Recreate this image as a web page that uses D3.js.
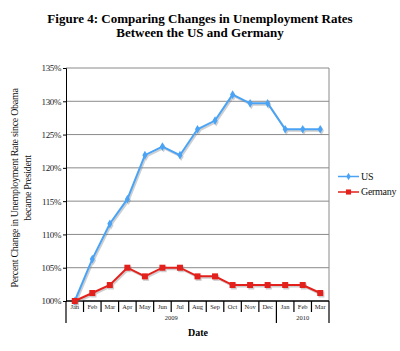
<!DOCTYPE html>
<html>
<head>
<meta charset="utf-8">
<script src="https://cdn.jsdelivr.net/npm/d3@7"></script>
<style>
  body { margin: 0; background: #fff; }
  text { font-family: "Liberation Serif", "Times New Roman", serif; }
</style>
</head>
<body>
<div class="chart"></div>
<script>
// data
var months = ["Jan", "Feb", "Mar", "Apr", "May", "Jun", "Jul", "Aug", "Sep", "Oct", "Nov", "Dec", "Jan", "Feb", "Mar"];
var years = [{ year: "2009", from: 0, to: 12 }, { year: "2010", from: 12, to: 15 }];
var usValues = [100, 106.3, 111.6, 115.3, 121.9, 123.2, 121.9, 125.8, 127.1, 131.0, 129.7, 129.7, 125.8, 125.8, 125.8];
var germanyValues = [100, 101.2, 102.4, 105.0, 103.7, 105.0, 105.0, 103.7, 103.7, 102.4, 102.4, 102.4, 102.4, 102.4, 101.2];
var yTicks = [100, 105, 110, 115, 120, 125, 130, 135];

var width = 400, height = 351;
var margin = ({ top: 68, right: 71, bottom: 50, left: 66 });

var svg = d3.select("div.chart")
    .append("svg")
    .attr("width", width)
    .attr("height", height);

// scales
var x = d3.scaleBand()
    .domain(d3.range(months.length))
    .range([margin.left, width - margin.right])
    .padding(0);
var y = d3.scaleLinear()
    .domain([100, 135])
    .range([height - margin.bottom, margin.top]);

// title
svg.append("text")
    .attr("x", 200).attr("y", 23)
    .attr("text-anchor", "middle")
    .attr("font-size", 13).attr("font-weight", "bold")
    .text("Figure 4: Comparing Changes in Unemployment Rates");
svg.append("text")
    .attr("x", 200).attr("y", 37)
    .attr("text-anchor", "middle")
    .attr("font-size", 13).attr("font-weight", "bold")
    .text("Between the US and Germany");

// grid
svg.append("g")
    .selectAll("line")
    .data(yTicks.slice(1))
    .join("line")
      .attr("x1", margin.left).attr("x2", width - margin.right)
      .attr("y1", d => y(d)).attr("y2", d => y(d))
      .attr("stroke", "#8a8a8a")
      .attr("stroke-width", 1);
// right border of plot area
svg.append("line")
    .attr("x1", width - margin.right).attr("x2", width - margin.right)
    .attr("y1", y(135)).attr("y2", y(100))
    .attr("stroke", "#8a8a8a");

// y axis
svg.append("g")
    .attr("transform", `translate(${margin.left},0)`)
    .call(d3.axisLeft(y).tickValues(yTicks).tickSize(3).tickPadding(2).tickFormat(d => d + "%"))
    .call(g => g.selectAll("text").attr("font-size", 9).attr("font-family", "Liberation Serif").attr("fill", "#222").attr("letter-spacing", "-0.4px"))
    .call(g => g.selectAll("line, path").attr("stroke", "#000"));

// x axis: month boxes
var x0 = x.range()[0], x1 = x.range()[1], base = y(100);
svg.append("line")
    .attr("x1", x0).attr("x2", x1)
    .attr("y1", base).attr("y2", base)
    .attr("stroke", "#000").attr("stroke-width", 1.5);
svg.append("g")
    .selectAll("line")
    .data(d3.range(months.length + 1))
    .join("line")
      .attr("x1", i => i < months.length ? x(i) : x1)
      .attr("x2", i => i < months.length ? x(i) : x1)
      .attr("y1", base)
      .attr("y2", i => (i === 0 || i === 12 || i === months.length) ? base + 22 : base + 11)
      .attr("stroke", "#000").attr("stroke-width", 1.2);
svg.append("g")
    .selectAll("text")
    .data(months)
    .join("text")
      .attr("x", (d, i) => x(i) + x.bandwidth() / 2)
      .attr("y", base + 8)
      .attr("text-anchor", "middle")
      .attr("font-size", 6.5)
      .attr("fill", "#222")
      .text(d => d);
svg.append("g")
    .selectAll("text")
    .data(years)
    .join("text")
      .attr("x", d => (x(d.from) + (d.to < months.length ? x(d.to) : x1)) / 2)
      .attr("y", base + 19)
      .attr("text-anchor", "middle")
      .attr("font-size", 6.5)
      .attr("fill", "#222")
      .text(d => d.year);

// axis titles
svg.append("text")
    .attr("x", 198).attr("y", 336)
    .attr("text-anchor", "middle")
    .attr("font-size", 10).attr("font-weight", "bold")
    .text("Date");
var yTitle = svg.append("text")
    .attr("transform", "translate(18,188) rotate(-90)")
    .attr("text-anchor", "middle")
    .attr("font-size", 10)
    .attr("letter-spacing", "-0.3px")
    .attr("fill", "#111");
yTitle.append("tspan").attr("x", 0).attr("dy", 0).text("Percent Change in Unemployment Rate since Obama");
yTitle.append("tspan").attr("x", 0).attr("dy", 13).text("became President");

// series
var series = [
    { name: "US", values: usValues, color: "#4aa3f5", marker: "diamond" },
    { name: "Germany", values: germanyValues, color: "#e3211c", marker: "square" }
];
var line = d3.line()
    .x((d, i) => x(i) + x.bandwidth() / 2)
    .y(d => y(d));

function drawMarker(g, kind, cx, cy, fill, scale) {
    scale = scale || 1;
    if (kind === "diamond") {
        g.append("path")
            .attr("d", d3.symbol(d3.symbolDiamond, 22 * scale * scale)())
            .attr("transform", `translate(${cx},${cy})`)
            .attr("fill", fill);
    } else {
        var s = 6 * scale;
        g.append("rect")
            .attr("x", cx - s / 2).attr("y", cy - s / 2)
            .attr("width", s).attr("height", s)
            .attr("fill", fill);
    }
}

series.forEach(s => {
    var g = svg.append("g");
    // soft shadow
    var sh = g.append("g").attr("transform", "translate(1.2,1.5)").attr("opacity", 0.35);
    sh.append("path").datum(s.values).attr("d", line)
        .attr("fill", "none").attr("stroke", "#777").attr("stroke-width", 2);
    s.values.forEach((v, i) => drawMarker(sh, s.marker, x(i) + x.bandwidth() / 2, y(v), "#777"));

    g.append("path").datum(s.values).attr("d", line)
        .attr("fill", "none").attr("stroke", s.color).attr("stroke-width", 2);
    s.values.forEach((v, i) => drawMarker(g, s.marker, x(i) + x.bandwidth() / 2, y(v), s.color));
});

// legend
var legend = svg.append("g");
series.forEach((s, i) => {
    var ly = 176.5 + 15.5 * i;
    legend.append("line")
        .attr("x1", 338).attr("x2", 359).attr("y1", ly).attr("y2", ly)
        .attr("stroke", s.color).attr("stroke-width", 1.5);
    drawMarker(legend, s.marker, 348.5, ly, s.color, 0.85);
    legend.append("text")
        .attr("x", 361).attr("y", ly + 3)
        .attr("font-size", 10).attr("fill", "#111")
        .attr("letter-spacing", "-0.3px")
        .text(s.name);
});
</script>
</body>
</html>
